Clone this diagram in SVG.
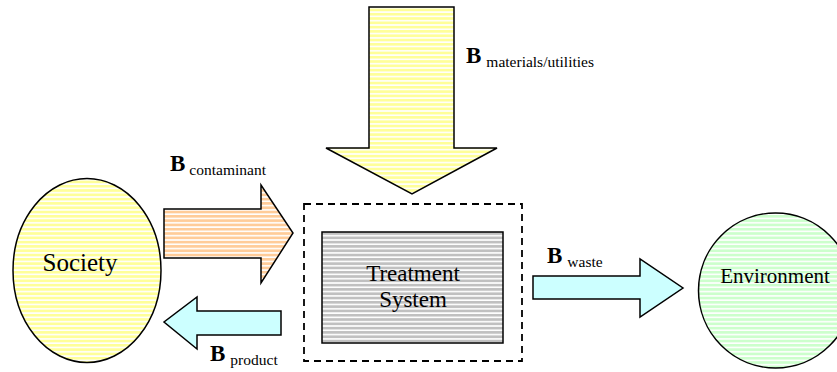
<svg xmlns="http://www.w3.org/2000/svg" width="837" height="372" viewBox="0 0 837 372">
<style>
.sh{stroke:#000;stroke-width:1.5;stroke-linejoin:miter}
text{font-family:"Liberation Serif",serif;fill:#000}
.b{font-weight:bold;font-size:23px}
.s{font-size:15.5px;font-weight:normal}
.n{font-weight:normal;font-style:normal}
</style>
<defs>
<pattern id="pY" patternUnits="userSpaceOnUse" width="10" height="4.3"><rect width="10" height="4.3" fill="#ffff99"/><rect y="2.7" width="10" height="1.6" fill="#ffffff"/></pattern>
<pattern id="pO" patternUnits="userSpaceOnUse" width="10" height="4.3"><rect width="10" height="4.3" fill="#ffcc99"/><rect y="2.7" width="10" height="1.6" fill="#ffffff"/></pattern>
<pattern id="pG" patternUnits="userSpaceOnUse" width="10" height="4.3"><rect width="10" height="4.3" fill="#ccffcc"/><rect y="2.7" width="10" height="1.6" fill="#ffffff"/></pattern>
<pattern id="pS" patternUnits="userSpaceOnUse" width="10" height="4.3"><rect width="10" height="4.3" fill="#c0c0c0"/><rect y="2.7" width="10" height="1.6" fill="#ffffff"/></pattern>
</defs>
<rect width="837" height="372" fill="#ffffff"/>
<g id="connectors">
<g id="materials">
<polygon class="sh" fill="url(#pY)" points="369,7 454,7 454,148 497,148 412,194 326,148 369,148"/>
<text x="466" y="63"><tspan class="b">B</tspan><tspan class="s" dx="5" dy="4">materials/utilities</tspan></text>
</g>
<g id="contaminant">
<polygon class="sh" fill="url(#pO)" points="164,209 261,209 261,185 293,233 261,283 261,258 164,258"/>
<text x="170" y="171"><tspan class="b">B</tspan><tspan class="s" dx="4" dy="4">contaminant</tspan></text>
</g>
<g id="product">
<polygon class="sh" fill="#ccffff" points="281,311 197,311 197,297 164,322 197,349 197,335 281,335"/>
<text x="210" y="361"><tspan class="b">B</tspan><tspan class="s" dx="5" dy="4">product</tspan></text>
</g>
<g id="waste">
<polygon class="sh" fill="#ccffff" points="533,276 640,276 640,259 683,288 640,317 640,299 533,299"/>
<text x="547" y="263"><tspan class="b">B</tspan><tspan class="s" dx="5" dy="4">waste</tspan></text>
</g>
</g>
<g id="society">
<ellipse class="sh" fill="url(#pY)" cx="87" cy="270.5" rx="74" ry="92"/>
<text class="n" x="80" y="271" font-size="25" text-anchor="middle">Society</text>
</g>
<g id="boundary">
<rect x="304" y="204" width="218" height="157" fill="none" stroke="#000" stroke-width="1.8" stroke-dasharray="7,5"/>
</g>
<g id="treatment">
<rect class="sh" fill="url(#pS)" x="322" y="232" width="181" height="111"/>
<text class="n" x="413" y="281" font-size="23" text-anchor="middle">Treatment</text>
<text class="n" x="413" y="307" font-size="23" text-anchor="middle">System</text>
</g>
<g id="environment">
<ellipse class="sh" fill="url(#pG)" cx="775.5" cy="290.5" rx="77" ry="77.5"/>
<text class="n" x="775" y="283" font-size="21" text-anchor="middle">Environment</text>
</g>
</svg>
